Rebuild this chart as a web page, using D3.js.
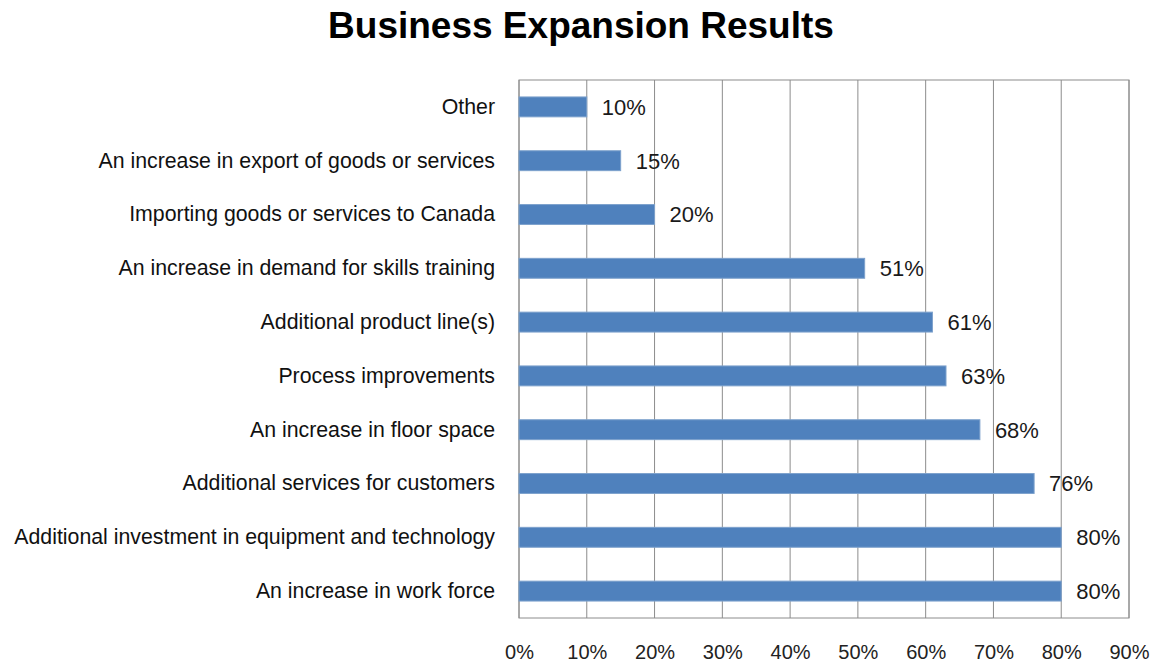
<!DOCTYPE html>
<html>
<head>
<meta charset="utf-8">
<script src="https://cdn.jsdelivr.net/npm/d3@7"></script>
<style>
  body { margin: 0; background: #fff; }
  svg { display: block; }
</style>
</head>
<body>
<svg id="chart" width="1153" height="665"></svg>
<script>
// Survey responses, listed top to bottom
const categories = [
  "Other",
  "An increase in export of goods or services",
  "Importing goods or services to Canada",
  "An increase in demand for skills training",
  "Additional product line(s)",
  "Process improvements",
  "An increase in floor space",
  "Additional services for customers",
  "Additional investment in equipment and technology",
  "An increase in work force"
];
const values = [10, 15, 20, 51, 61, 63, 68, 76, 80, 80];
const tickValues = [0, 10, 20, 30, 40, 50, 60, 70, 80, 90];
const title = "Business Expansion Results";

const svg = d3.select("#chart");
const margin = { left: 519, right: 24, top: 80, bottom: 47 };
const W = 1153, H = 665;
const font = "Liberation Sans, Arial, sans-serif";

const x = d3.scaleLinear().domain([0, 90]).range([margin.left, W - margin.right]);
const y = d3.scaleBand().domain(categories).range([margin.top, H - margin.bottom]).paddingInner(0.63).paddingOuter(0.315);

// Title
svg.append("text")
  .attr("x", 581).attr("y", 38)
  .attr("text-anchor", "middle")
  .style("font-family", font)
  .style("font-weight", "bold")
  .style("font-size", "37px")
  .text(title);

// Vertical gridlines
svg.append("g")
  .selectAll("line")
  .data(tickValues)
  .join("line")
  .attr("x1", d => x(d)).attr("x2", d => x(d))
  .attr("y1", margin.top).attr("y2", H - margin.bottom)
  .attr("stroke", "#8c8c8c").attr("stroke-width", 1);

// Plot frame
svg.append("rect")
  .attr("x", x(0)).attr("y", margin.top)
  .attr("width", x(90) - x(0)).attr("height", H - margin.bottom - margin.top)
  .attr("fill", "none").attr("stroke", "#8c8c8c").attr("stroke-width", 1);

// Bars
svg.append("g")
  .selectAll("rect")
  .data(values)
  .join("rect")
  .attr("x", x(0))
  .attr("y", (d, i) => y(categories[i]))
  .attr("width", d => x(d) - x(0))
  .attr("height", y.bandwidth())
  .attr("fill", "#4f81bd")
  .attr("stroke", "#7da1cc").attr("stroke-width", 1);

// Value labels
svg.append("g")
  .selectAll("text")
  .data(values)
  .join("text")
  .attr("x", d => x(d) + 15)
  .attr("y", (d, i) => y(categories[i]) + y.bandwidth() / 2)
  .attr("dy", "0.36em")
  .style("font-family", font)
  .style("font-size", "22px")
  .attr("fill", "#1a1a1a")
  .text(d => d + "%");

// Category axis
const yAxis = d3.axisLeft(y).tickSize(0).tickPadding(24);
const gy = svg.append("g").attr("transform", `translate(${x(0)},0)`).call(yAxis);
gy.select(".domain").remove();
gy.selectAll("text")
  .style("font-family", font)
  .style("font-size", "21.3px")
  .attr("fill", "#111");

// Percentage axis
const xAxis = d3.axisBottom(x).tickValues(tickValues).tickSize(0).tickPadding(27).tickFormat(d => d + "%");
const gx = svg.append("g").attr("transform", `translate(0,${H - margin.bottom})`).call(xAxis);
gx.select(".domain").remove();
gx.selectAll("text")
  .style("font-family", font)
  .style("font-size", "20px")
  .attr("fill", "#222");
</script>
</body>
</html>
